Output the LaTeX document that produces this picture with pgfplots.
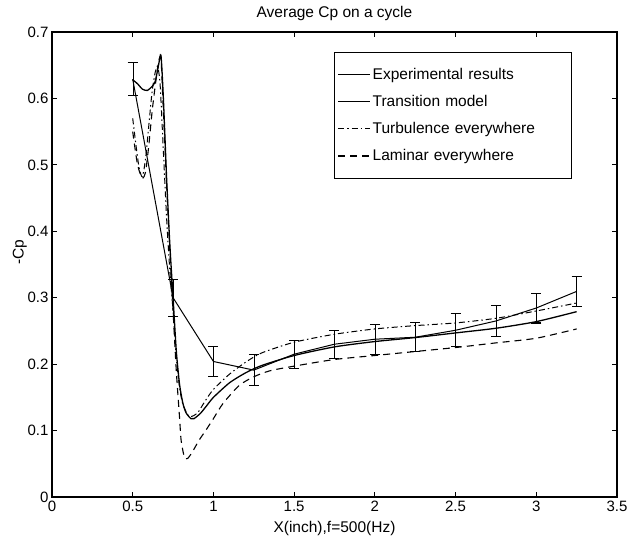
\documentclass[border=0pt]{standalone}
\usepackage{pgfplots}
\pgfplotsset{compat=1.18}
\usepackage{pgfplotstable}
\usepackage{fontspec}
\setmainfont{Liberation Sans}

\pgfplotstableread{
x y e
0.5 0.629 0.025
0.75 0.300 0.028
1.0 0.204 0.022
1.25 0.191 0.023
1.5 0.215 0.021
1.75 0.230 0.021
2.0 0.2375 0.0225
2.25 0.2405 0.022
2.5 0.251 0.025
2.75 0.265 0.023
3.0 0.2845 0.0225
3.25 0.3095 0.0225
}\expdata

\pgfplotstableread{
x y
0.50 0.628
0.53 0.622
0.56 0.614
0.59 0.612
0.62 0.618
0.64 0.626
0.66 0.650
0.675 0.665
0.69 0.600
0.71 0.480
0.73 0.380
0.75 0.300
0.77 0.220
0.79 0.170
0.81 0.142
0.83 0.127
0.86 0.118
0.88 0.118
0.92 0.126
0.96 0.138
1.0 0.150
1.1 0.172
1.2 0.187
1.3 0.198
1.5 0.213
1.75 0.226
2.0 0.234
2.25 0.240
2.5 0.247
2.75 0.254
3.0 0.264
3.25 0.279
}\transdata

\pgfplotstableread{
x y
0.50 0.570
0.52 0.530
0.54 0.495
0.56 0.482
0.58 0.510
0.60 0.560
0.62 0.610
0.64 0.640
0.655 0.648
0.67 0.620
0.69 0.520
0.71 0.420
0.73 0.340
0.75 0.280
0.77 0.210
0.79 0.165
0.81 0.140
0.84 0.124
0.86 0.121
0.90 0.126
0.95 0.145
1.0 0.162
1.1 0.185
1.2 0.203
1.3 0.217
1.5 0.233
1.75 0.245
2.0 0.253
2.25 0.258
2.5 0.262
2.75 0.269
3.0 0.280
3.25 0.292
}\turbdata

\pgfplotstableread{
x y
0.50 0.550
0.53 0.500
0.56 0.480
0.58 0.490
0.60 0.530
0.62 0.580
0.64 0.620
0.66 0.655
0.675 0.660
0.69 0.580
0.71 0.470
0.73 0.370
0.75 0.280
0.77 0.190
0.79 0.120
0.80 0.085
0.82 0.060
0.84 0.058
0.87 0.068
0.91 0.085
0.96 0.103
1.0 0.118
1.06 0.141
1.16 0.168
1.25 0.181
1.35 0.190
1.5 0.197
1.75 0.207
2.0 0.213
2.25 0.219
2.5 0.225
2.75 0.232
3.0 0.239
3.25 0.253
}\lamdata

\begin{document}
\begin{tikzpicture}
\begin{axis}[
  at={(0pt,0pt)}, anchor=south west,
  scale only axis,
  width=565pt, height=465pt,
  xmin=0, xmax=3.5, ymin=0, ymax=0.7,
  xtick={0,0.5,...,3.5},
  ytick={0,0.1,...,0.7},
  xticklabels={0,0.5,1,1.5,2,2.5,3,3.5},
  yticklabels={0,0.1,0.2,0.3,0.4,0.5,0.6,0.7},
  tick align=inside,
  major tick length=5pt,
  axis line style={line width=1.1pt},
  every tick/.style={line width=0.9pt, black},
  tick label style={font=\fontsize{15}{17}\selectfont},
  xticklabel style={yshift=-1pt},
  /pgf/number format/assume math mode=true,
  title={Average Cp on a cycle},
  title style={font=\fontsize{15.5}{17}\selectfont, yshift=2pt},
  xlabel={X(inch),f=500(Hz)},
  ylabel={-Cp},
  label style={font=\fontsize{15.5}{17}\selectfont},
  xlabel style={yshift=-2pt},
  ylabel style={yshift=-6pt, xshift=12pt},
  legend style={at={(rel axis cs:0.499,0.958)}, anchor=north west,
    draw=black, line width=0.9pt, font=\fontsize{15.5}{17}\selectfont,
    inner xsep=3pt, inner ysep=14pt, row sep=10.5pt,
    nodes={text width=194pt, align=left}},
  legend cell align=left,
  legend image code/.code={\draw[#1] (0pt,0pt) -- (32pt,0pt);},
]
\addplot[black, line width=1pt,
  error bars/.cd, y dir=both, y explicit,
  error mark options={black, line width=1.1pt, mark size=5pt, rotate=90}]
  table[x=x, y=y, y error=e] {\expdata};
\addlegendentry{Experimental results}
\addplot[black, line width=1.3pt, smooth, tension=0.4] table[x=x,y=y] {\transdata};
\addlegendentry{Transition model}
\addplot[black, line width=1pt, smooth, tension=0.4, dash pattern=on 6pt off 3pt on 1.5pt off 3pt] table[x=x,y=y] {\turbdata};
\addlegendentry{Turbulence everywhere}
\addplot[black, line width=1.1pt, smooth, tension=0.4, dash pattern=on 7pt off 5pt] table[x=x,y=y] {\lamdata};
\addlegendentry{Laminar everywhere}
\end{axis}
\pgfresetboundingbox
\path[use as bounding box] (-52pt,-40pt) rectangle (581pt,497pt);
\end{tikzpicture}
\end{document}
